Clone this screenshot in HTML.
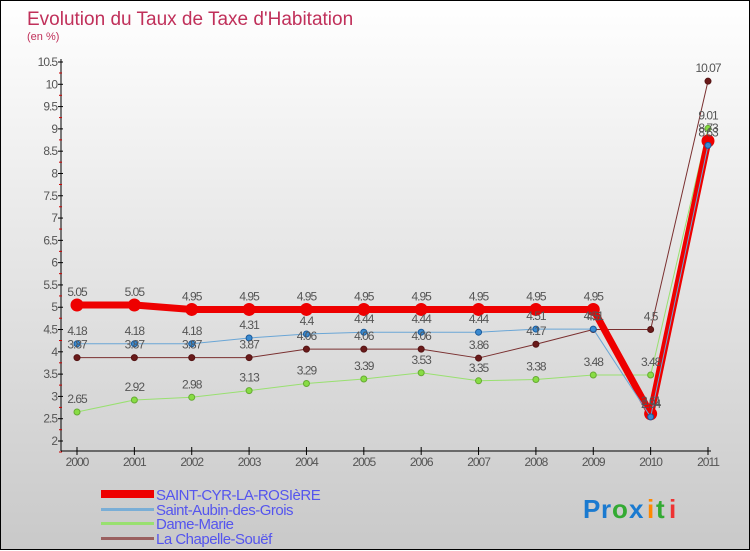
<!DOCTYPE html>
<html><head><meta charset="utf-8"><style>
html,body{margin:0;padding:0}
body{width:750px;height:550px;overflow:hidden;font-family:"Liberation Sans",sans-serif}
#wrap{position:relative;width:748px;height:548px;border:1px solid #000;background:linear-gradient(#ffffff,#c9c9c9)}
svg{position:absolute;left:0;top:0}
</style></head><body>
<div id="wrap">
<svg id="chart" width="750" height="550">
<text x="26" y="24" font-size="19" fill="#c0305a">Evolution du Taux de Taxe d'Habitation</text>
<text x="26" y="39" font-size="11" fill="#c0305a">(en %)</text>
<g id="axes"></g><g id="series"></g><g id="labels"></g>
<g>
<rect x="100" y="489" width="53" height="8" fill="#e00"/>
<text x="155" y="499" font-size="15" fill="#5555ee" letter-spacing="-0.5">SAINT-CYR-LA-ROSIèRE</text>
<rect x="100" y="507" width="53" height="3" fill="#7aaed6"/>
<text x="155" y="514" font-size="15" fill="#5555ee" letter-spacing="-0.5">Saint-Aubin-des-Grois</text>
<rect x="100" y="521" width="53" height="3" fill="#99e070"/>
<text x="155" y="528" font-size="15" fill="#5555ee" letter-spacing="-0.5">Dame-Marie</text>
<rect x="100" y="536" width="53" height="3" fill="#9a6060"/>
<text x="155" y="543" font-size="15" fill="#5555ee" letter-spacing="-0.5">La Chapelle-Souëf</text>
</g>
<g font-size="26" font-weight="bold">
<text x="582" y="517" fill="#1a7ad0">P</text><text x="600" y="517" fill="#1a7ad0">r</text><text x="611" y="517" fill="#3a3">o</text><text x="628" y="517" fill="#1a7ad0">x</text><text x="646" y="517" fill="#f80">i</text><text x="655" y="517" fill="#3a3">t</text><text x="668" y="517" fill="#e33">i</text>
</g>
</svg>
</div>
<script>
const years=["2000","2001","2002","2003","2004","2005","2006","2007","2008","2009","2010","2011"];
const yTicks=[2,2.5,3,3.5,4,4.5,5,5.5,6,6.5,7,7.5,8,8.5,9,9.5,10,10.5];
const saintCyr=[5.05,5.05,4.95,4.95,4.95,4.95,4.95,4.95,4.95,4.95,2.61,8.73];
const saintAubin=[4.18,4.18,4.18,4.31,4.4,4.44,4.44,4.44,4.51,4.51,2.54,8.63];
const dameMarie=[2.65,2.92,2.98,3.13,3.29,3.39,3.53,3.35,3.38,3.48,3.48,9.01];
const laChapelle=[3.87,3.87,3.87,3.87,4.06,4.06,4.06,3.86,4.17,4.5,4.5,10.07];
const NS="http://www.w3.org/2000/svg";
const xs=i=>76+i*(707-76)/11;
const ys=v=>440-(v-2)*(440-61)/8.5;
function mk(t,a,p){const e=document.createElementNS(NS,t);for(const k in a)e.setAttribute(k,a[k]);p.appendChild(e);return e;}
const ax=document.getElementById('axes'),se=document.getElementById('series'),lb=document.getElementById('labels');
let yl=mk('line',{x1:60,y1:58,x2:60,y2:450,stroke:'#000'},ax);


let xl=mk('line',{x1:60,y1:450,x2:710,y2:450,stroke:'#000'},ax);


yTicks.forEach(v=>{const y=ys(v);
mk('line',{x1:57,y1:y,x2:62,y2:y,stroke:'#000'},ax);
mk('line',{x1:58,y1:y+11,x2:61,y2:y+11,stroke:'#c00'},ax);
const t=mk('text',{x:56,y:y+4,'font-size':12,fill:'#555','text-anchor':'end','letter-spacing':'-1'},ax);t.textContent=String(v);

});
years.forEach((yr,i)=>{const x=xs(i);
mk('line',{x1:x,y1:446,x2:x,y2:454,stroke:'#000'},ax);
const t=mk('text',{x:x,y:465,'font-size':12,fill:'#555','text-anchor':'middle','letter-spacing':'-1'},ax);t.textContent=yr;

});
function draw(name,vals,color,w,r,dot,fill){
const pts=vals.map((v,i)=>xs(i)+','+ys(v)).join(' ');
const pl=mk('polyline',{points:pts,fill:'none',stroke:color,'stroke-width':w,'stroke-linejoin':'round'},se);


vals.forEach((v,i)=>{const c=mk('circle',{cx:xs(i),cy:ys(v),r:r,fill:fill,stroke:dot,'stroke-width':1},se);


const t=mk('text',{x:xs(i),y:ys(v)-9,'font-size':12,fill:'#555','text-anchor':'middle','letter-spacing':'-1'},lb);t.textContent=String(v);

});}
draw('la-chapelle',laChapelle,'#7a3030',1,3,'#551515','#6a1a1a');
draw('dame-marie',dameMarie,'#99e070',1,3,'#66aa33','#88dd44');
draw('saint-cyr',saintCyr,'#ee0000',7,6,'#ee0000','#ee0000');
draw('saint-aubin',saintAubin,'#6aa6d6',1,3,'#1a5a9a','#3a8ad0');
</script>
</body></html>
